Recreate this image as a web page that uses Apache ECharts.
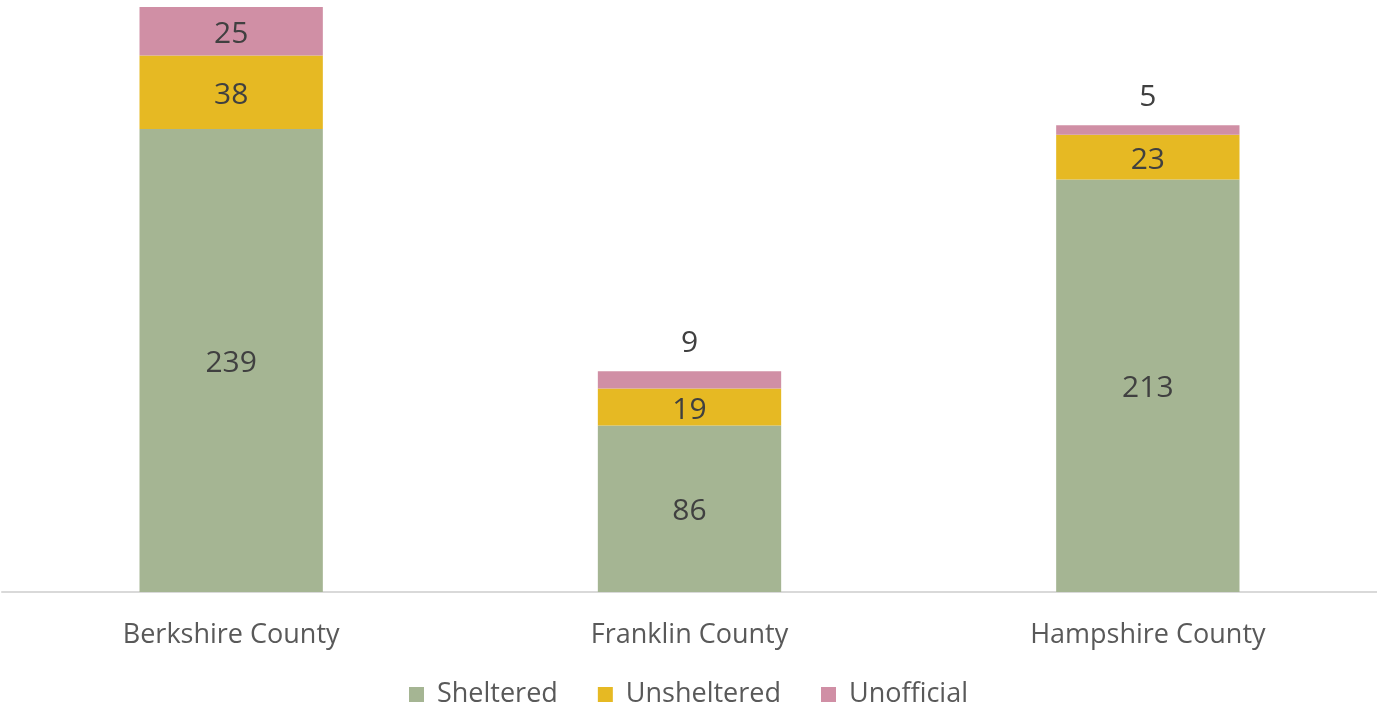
<!DOCTYPE html>
<html>
<head>
<meta charset="utf-8">
<script src="https://cdn.jsdelivr.net/npm/echarts@6/dist/echarts.min.js"></script>
<style>
  html, body { margin: 0; padding: 0; background: #fff; }
  #chart { width: 1377px; height: 713px; }
</style>
</head>
<body>
<div id="chart"></div>
<script>
var counties = ["Berkshire County", "Franklin County", "Hampshire County"];
var sheltered = [239, 86, 213];
var unsheltered = [38, 19, 23];
var unofficial = [25, 9, 5];

var myChart = echarts.init(document.getElementById("chart"), null, { renderer: "canvas" });

var labelFont = { fontFamily: "Open Sans", fontSize: 30, color: "#404040", offset: [0, 3] };

// small top segments get their label above the bar
var unofficialData = unofficial.map(function (v) {
  return {
    value: v,
    label: v < 15 ? { position: "top", distance: 16 } : { position: "inside" },
  };
});

var option = {
  animation: false,
  textStyle: { fontFamily: "Open Sans" },
  grid: { left: 2, right: 0, top: 7, bottom: 121, containLabel: false },
  legend: {
    data: ["Sheltered", "Unsheltered", "Unofficial"],
    top: 676,
    left: "center",
    icon: "rect",
    itemWidth: 15,
    itemHeight: 15,
    itemGap: 40,
    textStyle: { fontFamily: "Open Sans", fontSize: 27, color: "#595959", padding: [0, 0, 0, 8] },
  },
  xAxis: {
    type: "category",
    data: counties,
    axisLine: { lineStyle: { color: "#d9d9d9", width: 2 } },
    axisTick: { show: false },
    axisLabel: { fontFamily: "Open Sans", fontSize: 27, color: "#595959", margin: 30 },
  },
  yAxis: {
    type: "value",
    min: 0,
    max: 302,
    show: false,
    splitLine: { show: false },
  },
  series: [
    {
      name: "Sheltered",
      type: "bar",
      stack: "total",
      barWidth: "40%",
      itemStyle: { color: "#A5B593" },
      label: Object.assign({ show: true, position: "inside" }, labelFont),
      data: sheltered,
    },
    {
      name: "Unsheltered",
      type: "bar",
      stack: "total",
      itemStyle: { color: "#E6B923" },
      label: Object.assign({ show: true, position: "inside" }, labelFont),
      data: unsheltered,
    },
    {
      name: "Unofficial",
      type: "bar",
      stack: "total",
      itemStyle: { color: "#D08FA5" },
      label: Object.assign({ show: true }, labelFont),
      data: unofficialData,
    },
  ],
};

myChart.setOption(option);
window.addEventListener("resize", myChart.resize);
</script>
</body>
</html>
